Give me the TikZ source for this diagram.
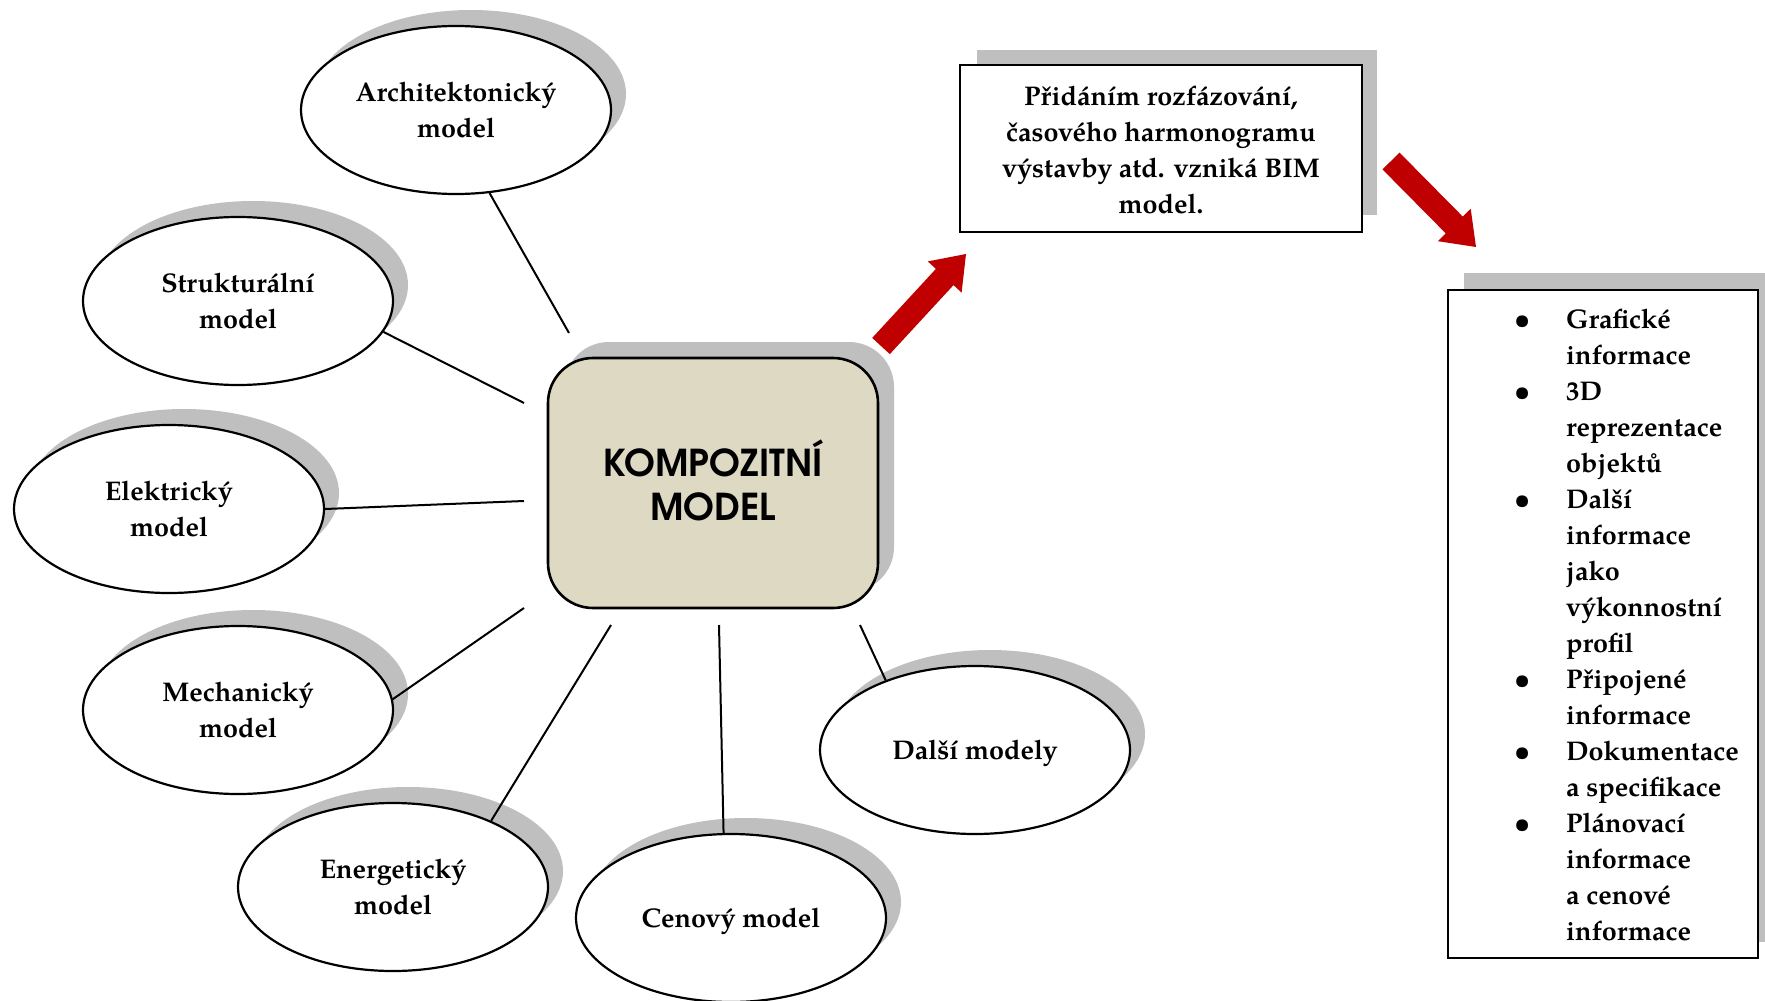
\documentclass[tikz,border=0pt]{standalone}
\usepackage{fontspec}
\newfontfamily\palbold{texgyrepagella-bold.otf}
\newfontfamily\gothicbold{texgyreadventor-bold.otf}
\usetikzlibrary{shapes.geometric,shadows}

\definecolor{shadegrey}{RGB}{191,191,191}
\definecolor{coretan}{RGB}{221,217,195}
\definecolor{flowred}{RGB}{192,0,0}

\newcommand\diagfont{\palbold\fontsize{27}{36}\selectfont}
\newcommand\corefont{\gothicbold\fontsize{37}{44}\selectfont}
\newcommand\itembullet{\makebox[88pt]{\textbullet}}

\begin{document}
\begin{tikzpicture}[x=1pt,y=-1pt,
  modelnode/.style={ellipse, draw=black, line width=2.2pt, fill=white,
    minimum width=310pt, minimum height=168pt, inner sep=0pt,
    align=center, font=\diagfont,
    drop shadow={shadow xshift=15pt, shadow yshift=16pt, fill=shadegrey, opacity=1}},
  oneline/.style={text depth=0pt},
  corebox/.style={rectangle, rounded corners=45pt, draw=black, line width=2.6pt,
    fill=coretan, minimum width=330pt, minimum height=250pt, inner sep=0pt,
    align=center, font=\corefont,
    drop shadow={shadow xshift=16pt, shadow yshift=16pt, fill=shadegrey, opacity=1}},
  textbox/.style={rectangle, draw=black, line width=2.6pt, fill=white,
    inner sep=0pt, align=center, font=\diagfont},
  link/.style={draw=black, line width=2pt},
  redarrow/.style={fill=flowred, draw=none},
  boxshade/.style={fill=shadegrey, draw=none}]

\useasboundingbox (0,0) rectangle (1765,1001);
\fill[white] (0,0) rectangle (1765,1001);
\clip (0,0) rectangle (1765,1001);

% central composite model
\node[corebox] (core) at (713,483) {KOMPOZITNÍ\\MODEL\rule[-5pt]{0pt}{0pt}};

% partial models around it
\node[modelnode] (arch)  at (456,110) {Architektonický\\model};
\node[modelnode] (struc) at (238,301) {Strukturální\\model};
\node[modelnode] (elec)  at (169,509) {Elektrický\\model};
\node[modelnode] (mech)  at (238,710) {Mechanický\\model};
\node[modelnode] (energ) at (393,887) {Energetický\\model};
\node[modelnode, oneline] (cost)  at (731,918) {Cenový model};
\node[modelnode, oneline] (other) at (975,750) {Další modely};

% loose ends of the spokes, short of the central box
\coordinate (e1) at (569,333);
\coordinate (e2) at (524,403);
\coordinate (e3) at (524,501);
\coordinate (e4) at (524,608);
\coordinate (e5) at (611,625);
\coordinate (e6) at (719,625);
\coordinate (e7) at (860,625);

\draw[link] (arch.-68.9) -- (e1);
\draw[link] (struc.-12.7) -- (e2);
\draw[link] (elec.0) -- (e3);
\draw[link] (mech.4.4) -- (e4);
\draw[link] (energ.34.2) -- (e5);
\draw[link] (cost.95.5) -- (e6);
\draw[link] (other.142.5) -- (e7);

% BIM note box
\fill[boxshade] (977,50) rectangle (1377,215);
\node[textbox, minimum width=402pt, minimum height=167pt] (note) at (1161,148.5)
  {\rule{0pt}{23pt}Přidáním rozfázování,\\časového harmonogramu\\výstavby atd. vzniká BIM\\model.};

% information list box
\fill[boxshade] (1464,273) rectangle (1780,942);
\node[textbox, minimum width=310pt, minimum height=668pt] (info) at (1603,624) {};
\node[anchor=base west, inner sep=0pt, font=\diagfont] (infolist) at (1478,328)
  {\begin{tabular}[t]{@{}l@{}l@{}}
   \itembullet & Grafické\\
               & informace\\
   \itembullet & 3D\\
               & reprezentace\\
               & objektů\\
   \itembullet & Další\\
               & informace\\
               & jako\\
               & výkonnostní\\
               & profil\\
   \itembullet & Připojené\\
               & informace\\
   \itembullet & Dokumentace\\
               & a specifikace\\
   \itembullet & Plánovací\\
               & informace\\
               & a cenové\\
               & informace
   \end{tabular}};

% block arrows
\fill[redarrow] (889.8,354.1) -- (953.5,285.1) -- (961.6,292.6) -- (966,254)
  -- (927.8,261.4) -- (935.9,268.9) -- (872.2,337.9) -- cycle;
\fill[redarrow] (1382.5,169.4) -- (1445.8,233.4) -- (1437.9,241.2) -- (1476,247)
  -- (1470.7,208.8) -- (1462.8,216.6) -- (1399.5,152.6) -- cycle;

\end{tikzpicture}
\end{document}
